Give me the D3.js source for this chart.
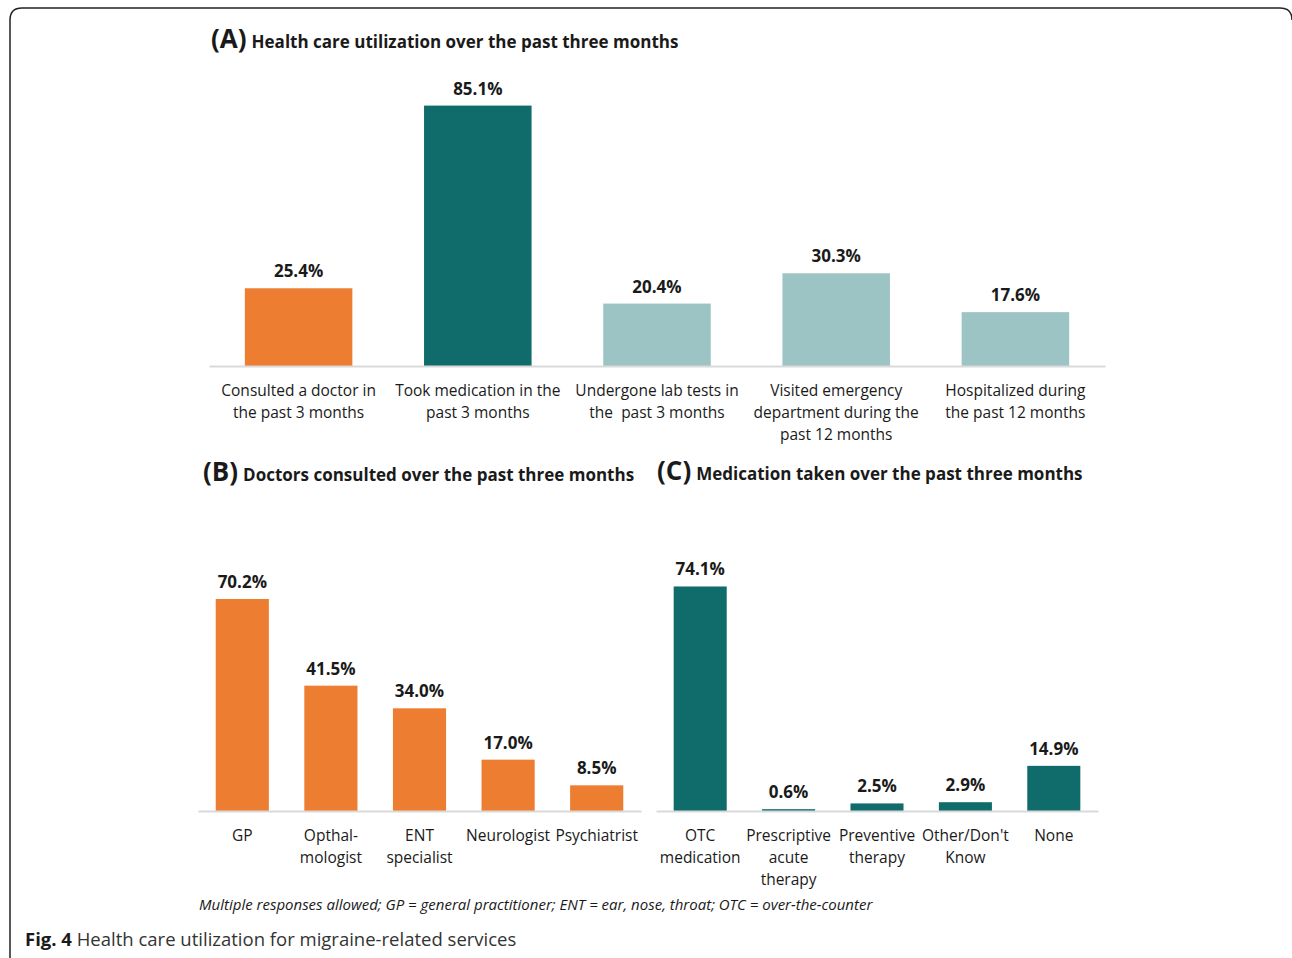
<!DOCTYPE html>
<html>
<head>
<meta charset="utf-8">
<script src="https://cdn.jsdelivr.net/npm/d3@7"></script>
<style>
  body { margin: 0; background: #fff; }
  svg text { font-family: "Open Sans", "Noto Sans", sans-serif; fill: #1a1a1a; }
</style>
</head>
<body>
<svg id="chart" width="1292" height="958"></svg>
<script>
// panel A
const catsA = ["Consulted a doctor in\nthe past 3 months", "Took medication in the\npast 3 months",
  "Undergone lab tests in\nthe  past 3 months", "Visited emergency\ndepartment during the\npast 12 months",
  "Hospitalized during\nthe past 12 months"];
const valsA = [25.4, 85.1, 20.4, 30.3, 17.6];
// panel B
const catsB = ["GP", "Opthal-\nmologist", "ENT\nspecialist", "Neurologist", "Psychiatrist"];
const valsB = [70.2, 41.5, 34.0, 17.0, 8.5];
// panel C
const catsC = ["OTC\nmedication", "Prescriptive\nacute\ntherapy", "Preventive\ntherapy", "Other/Don't\nKnow", "None"];
const valsC = [74.1, 0.6, 2.5, 2.9, 14.9];

const orange = "#ed7d31", teal = "#106b6b", lightTeal = "#9dc4c4";

const svg = d3.select("#chart");

// frame
svg.append("path")
  .attr("d", "M10,980 L10,20 Q10,8 22,8 L1280,8 Q1292,8 1292,20")
  .attr("fill", "none").attr("stroke", "#222").attr("stroke-width", 1.5);

function title(x, y, letter, text) {
  const t = svg.append("text").attr("x", x).attr("y", y).attr("font-weight", 700);
  t.append("tspan").attr("font-size", 26).text(letter);
  t.append("tspan").attr("font-size", 17).attr("dx", 5).text(text);
}

function panel(o) {
  const x = d3.scaleBand().domain(o.cats).range([o.x0, o.x1]).paddingInner(0.4).paddingOuter(0.2);
  const y = d3.scaleLinear().domain([0, 100]).range([o.base, o.base - o.h]);
  const g = svg.append("g");

  g.selectAll("rect").data(o.vals).join("rect")
    .attr("x", (d, i) => x(o.cats[i]))
    .attr("y", d => y(d))
    .attr("width", x.bandwidth())
    .attr("height", d => y(0) - y(d))
    .attr("fill", (d, i) => o.color(i));

  g.selectAll("text.val").data(o.vals).join("text")
    .attr("class", "val")
    .attr("x", (d, i) => x(o.cats[i]) + x.bandwidth() / 2)
    .attr("y", d => y(d) - 11)
    .attr("text-anchor", "middle")
    .attr("font-size", 17).attr("font-weight", 700)
    .text(d => d.toFixed(1) + "%");

  const ax = g.append("g").attr("transform", `translate(0,${o.base})`)
    .call(d3.axisBottom(x).tickSize(0).tickSizeOuter(0).tickPadding(0));
  ax.select(".domain").attr("stroke", "#d9d9d9").attr("stroke-width", 2);
  ax.selectAll(".tick text").each(function(d) {
    const t = d3.select(this).text(null)
      .attr("dy", null)
      .attr("font-size", 15.5).attr("fill", "#1a1a1a")
      .attr("font-family", null).style("white-space", "pre");
    d.split("\n").forEach((line, i) => {
      t.append("tspan").attr("x", 0).attr("y", 30 + i * 22).text(line);
    });
  });
}

title(211, 48, "(A)", "Health care utilization over the past three months");
panel({ cats: catsA, vals: valsA, x0: 209, x1: 1105, base: 366, h: 306,
  color: i => i === 0 ? orange : i === 1 ? teal : lightTeal });

title(203, 481, "(B)", "Doctors consulted over the past three months");
panel({ cats: catsB, vals: valsB, x0: 198, x1: 641, base: 811, h: 302, color: () => orange });

title(657, 480, "(C)", "Medication taken over the past three months");
panel({ cats: catsC, vals: valsC, x0: 656, x1: 1098, base: 811, h: 303, color: () => teal });

svg.append("text").attr("x", 199).attr("y", 910)
  .attr("font-size", 15).attr("font-style", "italic")
  .text("Multiple responses allowed; GP = general practitioner; ENT = ear, nose, throat; OTC = over-the-counter");

const cap = svg.append("text").attr("x", 25).attr("y", 946).attr("font-size", 18.5);
cap.append("tspan").attr("font-weight", 700).text("Fig. 4");
cap.append("tspan").attr("fill", "#333").text(" Health care utilization for migraine-related services");
</script>
</body>
</html>
